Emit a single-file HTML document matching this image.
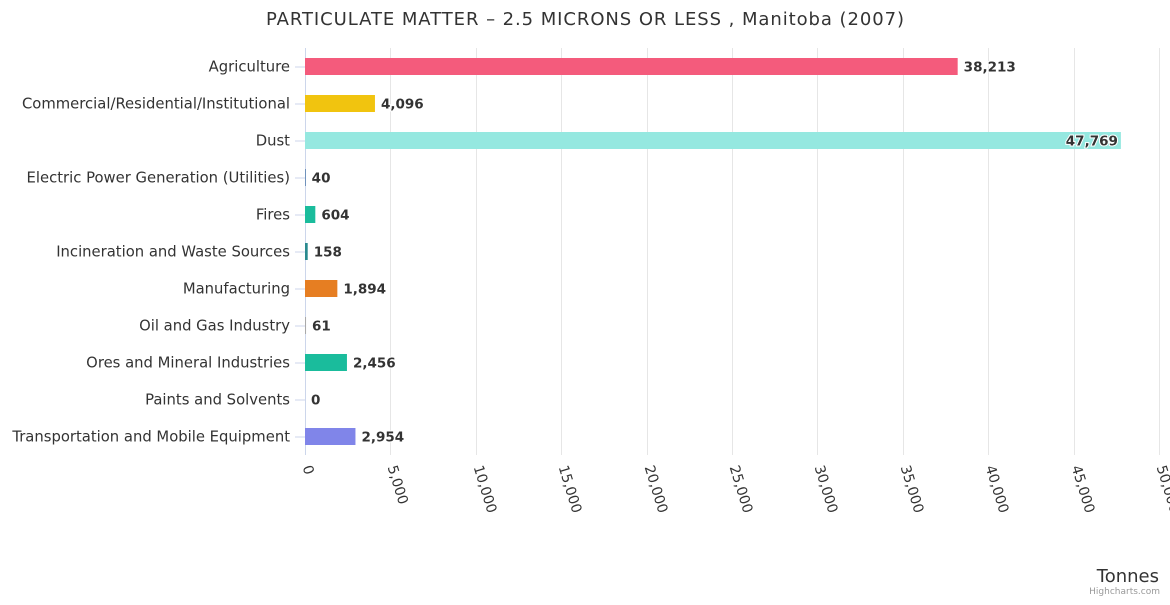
<!DOCTYPE html>
<html><head><meta charset="utf-8"><style>
body{margin:0;background:#fff}
svg{font-family:"DejaVu Sans","Liberation Sans",sans-serif}
</style></head><body>
<svg id="c" width="1170" height="600" xmlns="http://www.w3.org/2000/svg">
<text x="585" y="25" text-anchor="middle" font-size="18" textLength="638" fill="#333">PARTICULATE MATTER – 2.5 MICRONS OR LESS , Manitoba (2007)</text>
<g id="grid"></g><g id="bars"></g><g id="labels"></g>
<text x="1159" y="582" text-anchor="end" font-size="18" fill="#333">Tonnes</text>
<text x="1160" y="594" text-anchor="end" font-size="9" fill="#999">Highcharts.com</text>
</svg>
<script>
const categories=["Agriculture","Commercial/Residential/Institutional","Dust","Electric Power Generation (Utilities)","Fires","Incineration and Waste Sources","Manufacturing","Oil and Gas Industry","Ores and Mineral Industries","Paints and Solvents","Transportation and Mobile Equipment"];
const values=[38213,4096,47769,40,604,158,1894,61,2456,0,2954];
const colors=["#f45b7c","#f1c40f","#95e8e0","#4572a7","#1abc9c","#2a8a8f","#e67e22","#aaaaaa","#1abc9c","#999999","#8085e9"];
const ticks=[0,5000,10000,15000,20000,25000,30000,35000,40000,45000,50000];
const NS="http://www.w3.org/2000/svg";
const x0=305,x1=1159,plotTop=48,rowH=37;
const xs=v=>x0+v/50000*(x1-x0);
const ys=i=>plotTop+rowH*i+rowH/2;
const fmt=v=>v.toLocaleString("en-US");
function mk(t,a,p){const e=document.createElementNS(NS,t);for(const k in a)e.setAttribute(k,a[k]);p.appendChild(e);return e;}
const g=document.getElementById("grid"),b=document.getElementById("bars"),l=document.getElementById("labels");
const bottom=plotTop+rowH*categories.length;
ticks.forEach(t=>{
 const x=Math.round(xs(t))+0.5;
 const ln=mk("line",{x1:x,x2:x,y1:plotTop,y2:bottom,stroke:t===0?"#ccd6eb":"#e6e6e6"},g);
 
 
 const tx=mk("text",{x:x-3,y:bottom+12,"font-size":"14",fill:"#333",transform:`rotate(73 ${x-3} ${bottom+12})`},g);
 tx.textContent=fmt(t);
 
 
});
categories.forEach((c,i)=>{
 const y=ys(i);
 const tk=mk("line",{x1:295,x2:305,y1:y+0.5,y2:y+0.5,stroke:"#ccd6eb"},g);
 
 
 const t=mk("text",{x:290,y:y+5,"text-anchor":"end","font-size":"14.8",fill:"#333"},l);
 t.textContent=c;
 
 
 const w=xs(values[i])-x0;
 const r=mk("rect",{x:x0,y:y-8.5,width:Math.max(w,0),height:17,fill:colors[i]},b);
 
 
 const inside=xs(values[i])+70>1170;
 const v=mk("text",{x:inside?xs(values[i])-3:xs(values[i])+6,y:y+5,"text-anchor":inside?"end":"start","font-size":"13.5","font-weight":"bold",fill:"#333",stroke:"#fff","stroke-width":"2","paint-order":"stroke"},l);
 v.textContent=fmt(values[i]);
 
 
});
</script>
</body></html>
